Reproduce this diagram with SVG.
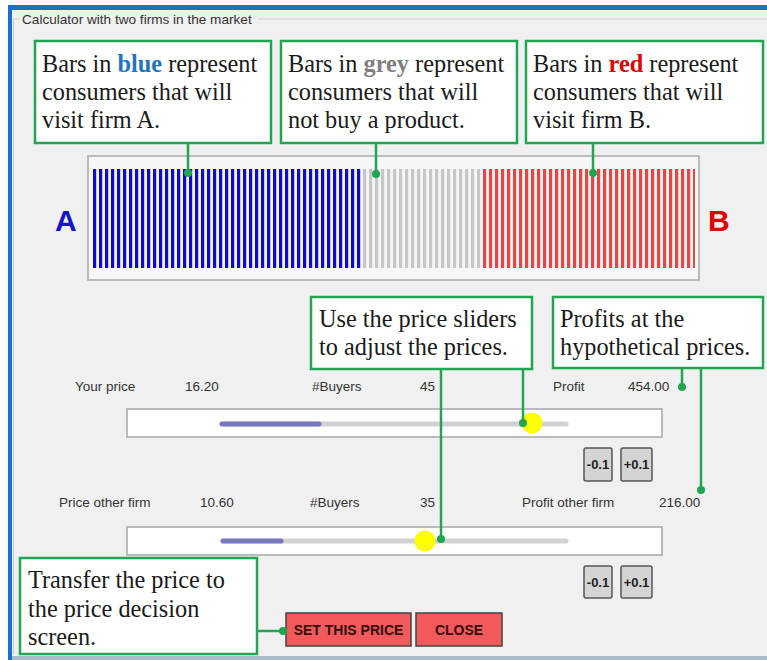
<svg xmlns="http://www.w3.org/2000/svg" width="767" height="660" viewBox="0 0 767 660">
<style>
.ui{font-family:"Liberation Sans",Arial,sans-serif;font-size:13.5px;fill:#333}
.co{font-family:"Liberation Serif","Times New Roman",serif;font-size:24.3px;fill:#1a1a1a}
.box{fill:#fff;stroke:#21a552;stroke-width:2.5}
.ln{stroke:#21a552;stroke-width:2.5;fill:none}
.dot{fill:#21a552}
.sbox{fill:#fff;stroke:#a6a6a6;stroke-width:1.5}
.trk{stroke:#d2d2d2;stroke-width:5;stroke-linecap:round}
.trkb{stroke:#7878c0;stroke-width:5;stroke-linecap:round}
.knob{fill:#ffff00}
.sb{fill:#d4d4d4;stroke:#555;stroke-width:1.5}
.sbt{font-family:"Liberation Sans",Arial,sans-serif;font-size:13px;font-weight:bold;fill:#222;text-anchor:middle}
.rb{fill:#f05a5a;stroke:#444;stroke-width:1.5}
.rbt{font-family:"Liberation Sans",Arial,sans-serif;font-size:14px;font-weight:bold;fill:#3a0a0a;text-anchor:middle}
</style>
<defs>
<pattern id="pb" patternUnits="userSpaceOnUse" x="93" y="0" width="6" height="10"><rect x="0" y="0" width="3.2" height="10" fill="#0a0ad0"/></pattern>
<pattern id="pg" patternUnits="userSpaceOnUse" x="93" y="0" width="6" height="10"><rect x="0" y="0" width="3.2" height="10" fill="#c6c6c6"/></pattern>
<pattern id="pr" patternUnits="userSpaceOnUse" x="93" y="0" width="6" height="10"><rect x="0" y="0" width="3.2" height="10" fill="#e84545"/></pattern>
</defs>
<rect x="0" y="0" width="767" height="660" fill="#fff"/>
<rect x="8" y="5" width="759" height="655" fill="#1a6fcf"/>
<rect x="12" y="10" width="755" height="647" fill="#f0f0f0"/>
<rect x="12" y="656" width="755" height="4" fill="#a9bcc8"/>
<g id="groupbox">
<path d="M13.5 19 H20 M258 19 H767 M13.5 19 V655" stroke="#d0d0d0" stroke-width="1.2" fill="none"/>
<text x="22" y="24" class="ui" style="font-size:13.6px">Calculator with two firms in the market</text>
</g>
<g id="bars">
<rect x="88" y="156" width="611" height="124" fill="#f6f6f6" stroke="#a8a8a8" stroke-width="1.5"/>
<rect x="93" y="169" width="270" height="99" fill="url(#pb)"/>
<rect x="363" y="169" width="120" height="99" fill="url(#pg)"/>
<rect x="483" y="169" width="212" height="99" fill="url(#pr)"/>
</g>
<g id="labelA"><text x="55" y="231" style="font-family:'Liberation Sans',Arial,sans-serif;font-size:30px;font-weight:bold;fill:#1414c8">A</text></g>
<g id="labelB"><text x="708" y="231" style="font-family:'Liberation Sans',Arial,sans-serif;font-size:30px;font-weight:bold;fill:#e00000">B</text></g>
<g id="row1">
<text x="75" y="391" class="ui">Your price</text>
<text x="185" y="391" class="ui">16.20</text>
<text x="312" y="391" class="ui">#Buyers</text>
<text x="420" y="391" class="ui">45</text>
<text x="553" y="391" class="ui">Profit</text>
<text x="628" y="391" class="ui">454.00</text>
</g>
<g id="slider1">
<rect x="127" y="409" width="535" height="28" class="sbox"/>
<line x1="222" y1="424" x2="566" y2="424" class="trk"/>
<line x1="222" y1="424" x2="319" y2="424" class="trkb"/>
<circle cx="532" cy="423" r="10.5" class="knob"/>
</g>
<g id="btns1">
<rect x="584" y="448" width="28" height="33" rx="2" class="sb"/>
<text x="598" y="469" class="sbt">-0.1</text>
<rect x="621" y="448" width="31" height="33" rx="2" class="sb"/>
<text x="636.5" y="469" class="sbt">+0.1</text>
</g>
<g id="row2">
<text x="59" y="507" class="ui">Price other firm</text>
<text x="200" y="507" class="ui">10.60</text>
<text x="310" y="507" class="ui">#Buyers</text>
<text x="420" y="507" class="ui">35</text>
<text x="522" y="507" class="ui">Profit other firm</text>
<text x="659" y="507" class="ui">216.00</text>
</g>
<g id="slider2">
<rect x="127" y="527" width="535" height="28" class="sbox"/>
<line x1="223" y1="541" x2="566" y2="541" class="trk"/>
<line x1="223" y1="541" x2="281" y2="541" class="trkb"/>
<circle cx="425" cy="541" r="10.5" class="knob"/>
</g>
<g id="btns2">
<rect x="584" y="566" width="28" height="32" rx="2" class="sb"/>
<text x="598" y="587" class="sbt">-0.1</text>
<rect x="621" y="566" width="31" height="32" rx="2" class="sb"/>
<text x="636.5" y="587" class="sbt">+0.1</text>
</g>
<g id="setPrice">
<rect x="286" y="613" width="125" height="33" class="rb"/>
<text x="348.5" y="635" class="rbt">SET THIS PRICE</text>
</g>
<g id="close">
<rect x="416" y="613" width="86" height="33" class="rb"/>
<text x="459" y="635" class="rbt">CLOSE</text>
</g>
<g id="connectors">
<line x1="188" y1="143" x2="188" y2="173" class="ln"/><circle cx="188" cy="173" r="4" class="dot"/>
<line x1="376" y1="143" x2="376" y2="174" class="ln"/><circle cx="376" cy="174" r="4" class="dot"/>
<line x1="593" y1="143" x2="593" y2="173" class="ln"/><circle cx="593" cy="173" r="4" class="dot"/>
<line x1="523" y1="369" x2="523" y2="423" class="ln"/><circle cx="523" cy="423" r="4" class="dot"/>
<line x1="441" y1="369" x2="441" y2="539" class="ln"/><circle cx="441" cy="539" r="4" class="dot"/>
<line x1="682" y1="368" x2="682" y2="387" class="ln"/><circle cx="682" cy="387" r="4" class="dot"/>
<line x1="701" y1="368" x2="701" y2="490" class="ln"/><circle cx="701" cy="490" r="4" class="dot"/>
<line x1="257" y1="631" x2="283" y2="631" class="ln"/><circle cx="283" cy="631" r="4" class="dot"/>
</g>
<g id="callout-blue">
<rect x="35" y="41" width="236" height="102" class="box"/>
<text class="co"><tspan x="42" y="72">Bars in <tspan font-weight="bold" fill="#1f75c0">blue</tspan> represent</tspan><tspan x="42" y="100">consumers that will</tspan><tspan x="42" y="128">visit firm A.</tspan></text>
</g>
<g id="callout-grey">
<rect x="281" y="41" width="236" height="102" class="box"/>
<text class="co"><tspan x="288" y="72">Bars in <tspan font-weight="bold" fill="#7f7f7f">grey</tspan> represent</tspan><tspan x="288" y="100">consumers that will</tspan><tspan x="288" y="128">not buy a product.</tspan></text>
</g>
<g id="callout-red">
<rect x="526" y="41" width="237" height="102" class="box"/>
<text class="co"><tspan x="533" y="72">Bars in <tspan font-weight="bold" fill="#e00000">red</tspan> represent</tspan><tspan x="533" y="100">consumers that will</tspan><tspan x="533" y="128">visit firm B.</tspan></text>
</g>
<g id="callout-sliders">
<rect x="311" y="297" width="221" height="72" class="box"/>
<text class="co"><tspan x="319" y="327">Use the price sliders</tspan><tspan x="319" y="355">to adjust the prices.</tspan></text>
</g>
<g id="callout-profits">
<rect x="553" y="297" width="210" height="71" class="box"/>
<text class="co"><tspan x="560" y="327">Profits at the</tspan><tspan x="560" y="355">hypothetical prices.</tspan></text>
</g>
<g id="callout-transfer">
<rect x="20" y="558" width="237" height="96" class="box"/>
<text class="co"><tspan x="28" y="588">Transfer the price to</tspan><tspan x="28" y="617">the price decision</tspan><tspan x="28" y="645">screen.</tspan></text>
</g>
</svg>
